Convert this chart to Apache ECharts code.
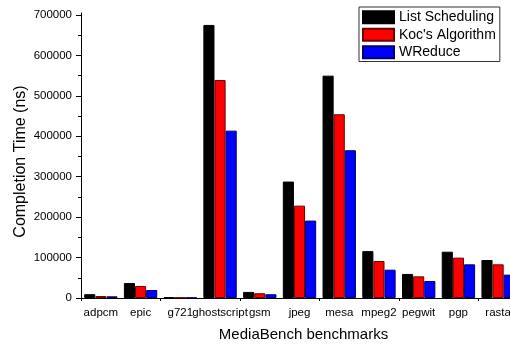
<!DOCTYPE html>
<html>
<head>
<meta charset="utf-8">
<script src="https://cdn.jsdelivr.net/npm/echarts@6/dist/echarts.min.js"></script>
<style>
  html, body { margin: 0; padding: 0; background: #fff; }
  #chart { width: 510px; height: 345px; }
</style>
</head>
<body>
<div id="chart"></div>
<script>
// MediaBench benchmarks and completion times (ns) per scheduling approach
const benchmarks = ['adpcm', 'epic', 'g721', 'ghostscript', 'gsm', 'jpeg', 'mesa', 'mpeg2', 'pegwit', 'pgp', 'rasta'];
const listScheduling = [9500, 37000, 1500, 675500, 15000, 288000, 550000, 116000, 59500, 114500, 94000];
const kocAlgorithm   = [4800, 29800, 1200, 539000, 11800, 228500, 454500, 91500, 53600, 99800, 83300];
const wReduce        = [4200, 19800, 1000, 414000, 9300, 191500, 365500, 70000, 42000, 83300, 57800];
const yTicks = [0, 100000, 200000, 300000, 400000, 500000, 600000, 700000];

const FONT = 'Liberation Sans, Arial, sans-serif';

const chart = echarts.init(document.getElementById('chart'), null, { renderer: 'canvas' });

function barSeries(name, data, fill, edge) {
  return {
    name: name,
    type: 'bar',
    data: data,
    xAxisIndex: 0,
    barGap: '0%',
    barCategoryGap: '16%',
    itemStyle: { color: fill, borderColor: edge, borderWidth: 1 },
    emphasis: { disabled: true }
  };
}

chart.setOption({
  animation: false,
  textStyle: { fontFamily: FONT },
  // the last category runs a little past the right edge of the canvas
  grid: { left: 81, width: 437, top: 13, bottom: 47, containLabel: false, outerBoundsMode: 'none' },
  legend: {
    orient: 'vertical',
    left: 359,
    top: 7,
    icon: 'rect',
    itemWidth: 31,
    itemHeight: 12,
    itemGap: 3,
    padding: [3, 4, 2, 3],
    borderColor: '#333',
    borderWidth: 1,
    textStyle: { fontFamily: FONT, fontSize: 14, lineHeight: 14.5, color: '#000' },
    data: ['List Scheduling', "Koc's Algorithm", 'WReduce']
  },
  xAxis: [
    {
      type: 'category',
      data: benchmarks,
      position: 'bottom',
      name: 'MediaBench benchmarks',
      nameLocation: 'middle',
      nameGap: 29,
      nameMoveOverlap: false,
      nameTextStyle: { fontFamily: FONT, fontSize: 15, color: '#000', padding: [0, 0, 0, 8] },
      axisLine: { lineStyle: { color: '#000', width: 1 } },
      axisTick: { alignWithLabel: true, length: 5, lineStyle: { color: '#000' } },
      axisLabel: { interval: 0, margin: 9, fontFamily: FONT, fontSize: 11.5, color: '#000' },
      splitLine: { show: false }
    },
    {
      // shorter ticks on the category boundaries
      type: 'category',
      data: benchmarks,
      position: 'bottom',
      offset: 0,
      axisLine: { show: false },
      axisTick: { show: true, alignWithLabel: false, length: 3, lineStyle: { color: '#000' } },
      axisLabel: { show: false },
      splitLine: { show: false }
    }
  ],
  yAxis: {
    type: 'value',
    min: 0,
    max: 705000,
    interval: 100000,
    name: 'Completion Time (ns)',
    nameLocation: 'middle',
    nameGap: 52,
    nameMoveOverlap: false,
    nameTextStyle: { fontFamily: FONT, fontSize: 16, color: '#000', padding: [0, 12, 0, 0] },
    axisLine: { show: true, lineStyle: { color: '#000', width: 1 } },
    axisTick: { show: true, length: 5, customValues: yTicks, lineStyle: { color: '#000' } },
    minorTick: { show: true, splitNumber: 2, length: 3, lineStyle: { color: '#000' } },
    axisLabel: {
      margin: 9,
      customValues: yTicks,
      formatter: function (v) { return String(v); },
      fontFamily: FONT, fontSize: 11.5, color: '#000'
    },
    splitLine: { show: false }
  },
  series: [
    barSeries('List Scheduling', listScheduling, '#000000', '#000000'),
    barSeries("Koc's Algorithm", kocAlgorithm, '#ff0000', '#6a0000'),
    barSeries('WReduce', wReduce, '#0000ff', '#00006a')
  ]
});
</script>
</body>
</html>
